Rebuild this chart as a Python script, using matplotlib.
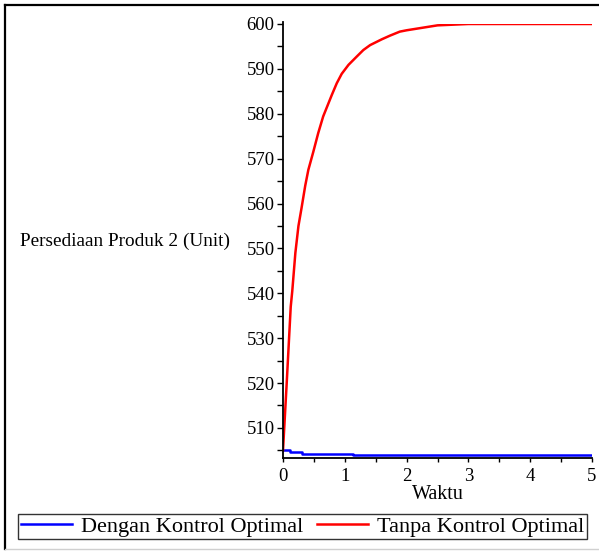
import matplotlib
matplotlib.use("Agg")
import matplotlib.pyplot as plt
from matplotlib.lines import Line2D
from matplotlib.ticker import MultipleLocator

plt.rcParams['font.family'] = ['Liberation Serif', 'DejaVu Serif']

# Data
t_red = [0.0, 0.01, 0.04, 0.06, 0.10, 0.125, 0.15, 0.20, 0.25, 0.30, 0.36, 0.41, 0.49,
         0.57, 0.65, 0.79, 0.87, 0.95, 1.06, 1.19, 1.30, 1.41, 1.60, 1.73, 1.89, 2.0,
         2.5, 3.0, 5.0]
y_red = [505.0, 507.5, 515.0, 520.0, 530.5, 537.0, 540.5, 549.0, 555.0, 559.0, 564.0,
         567.5, 571.5, 575.7, 579.4, 584.2, 586.8, 588.9, 590.9, 592.7, 594.2, 595.3,
         596.6, 597.4, 598.3, 598.6, 599.7, 600.0, 600.0]
t_blue = [0.0, 0.11, 0.11, 0.30, 0.30, 1.13, 1.13, 5.0]
y_blue = [505.0, 505.0, 504.6, 504.6, 504.3, 504.3, 504.0, 504.0]

label_blue = "Dengan Kontrol Optimal"
label_red = "Tanpa Kontrol Optimal"
xlabel = "Waktu"
ylabel = "Persediaan Produk 2 (Unit)"

W, H = 599, 551
fig = plt.figure(figsize=(W / 100, H / 100), dpi=100)
ax = fig.add_axes([283 / W, 1 - 458 / H, (592 - 283) / W, (458 - 24) / H])

ax.plot(t_blue, y_blue, color='#0000ff', lw=1.8, label=label_blue)
ax.plot(t_red, y_red, color='#ff0000', lw=1.8, label=label_red)

ax.set_xlim(0, 5)
ax.set_ylim(503.3, 600)
for s in ['top', 'right']:
    ax.spines[s].set_visible(False)
for s in ['left', 'bottom']:
    ax.spines[s].set_linewidth(1.3)
ax.spines['left'].set_bounds(503.3, 600.5)

ax.yaxis.set_minor_locator(MultipleLocator(5))
ax.xaxis.set_major_locator(MultipleLocator(1))
ax.xaxis.set_minor_locator(MultipleLocator(0.5))
ax.set_yticks(range(510, 601, 10))
ax.tick_params(axis='y', which='both', direction='out', length=4, width=1, labelsize=13.5, pad=2)
ax.tick_params(axis='x', which='both', direction='out', length=3, width=1, labelsize=13.5, pad=4)

ax.set_xlabel(xlabel, fontsize=14.5, labelpad=0)
fig.text(20 / W, 1 - 241 / H, ylabel, fontsize=13.9, ha='left', va='center')

leg = fig.legend(loc='center', bbox_to_anchor=(302.5 / W, 1 - 526.5 / H), ncol=2,
                 fontsize=16, frameon=True, fancybox=False, handlelength=2.3,
                 handletextpad=0.4, columnspacing=0.6, borderpad=0.12, borderaxespad=0)
leg.get_frame().set_edgecolor('black')
leg.get_frame().set_linewidth(1.0)

# outer frame
def fline(x0, y0, x1, y1, c, lw):
    fig.add_artist(Line2D([x0 / W, x1 / W], [1 - y0 / H, 1 - y1 / H], color=c, lw=lw,
                          transform=fig.transFigure))

fline(5, 5, 598, 5, 'black', 1.6)
fline(5, 5, 5, 549, 'black', 1.6)
fline(5, 549, 598, 549, '#d0d0d0', 1.0)

fig.savefig("out.png", dpi=100)
